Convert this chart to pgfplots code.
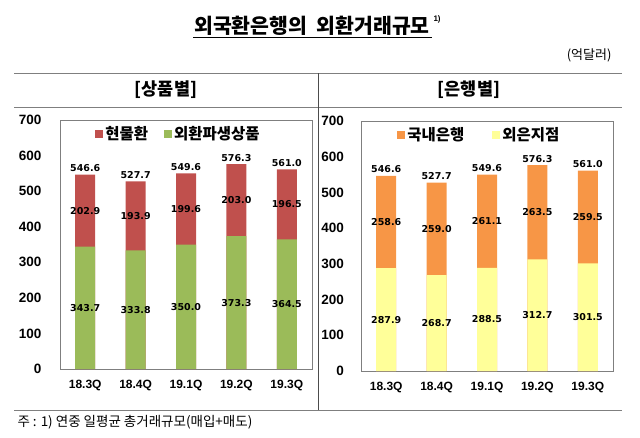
\documentclass[border=0pt]{standalone}
\usepackage{pgfplots}
\pgfplotsset{compat=1.18}
\usepackage{fontspec}
\setmainfont{Liberation Sans}
\newfontfamily\kr{Noto Sans CJK KR}
\newfontfamily\dv{DejaVu Sans}
\definecolor{cred}{HTML}{C0504D}
\definecolor{cgreen}{HTML}{9BBB59}
\definecolor{corange}{HTML}{F79646}
\definecolor{cyellow}{HTML}{FFFF99}
\definecolor{lgray}{HTML}{7F7F7F}
\pgfplotsset{
  common/.style={
    scale only axis, width=252pt,
    xmin=-0.5, xmax=4.5, ymin=0, ymax=700,
    xtick={0,1,2,3,4}, xticklabels={18.3Q,18.4Q,19.1Q,19.2Q,19.3Q},
    ytick={0,100,...,700},
    major tick length=0pt,
    axis line style={lgray, line width=0.6pt},
    /pgf/number format/assume math mode=true,
    y tick label style={font=\bfseries\fontsize{13.5}{15}\selectfont},
    x tick label style={font=\bfseries\fontsize{12}{14}\selectfont},
    xticklabel shift=8pt,
    legend style={draw=none, fill=none, legend columns=2,
      font=\kr\bfseries\fontsize{15.5}{17}\selectfont},
    legend cell align=left,
  },
  lab/.style={draw=none, mark=none, forget plot, nodes near coords,
    point meta=explicit symbolic,
    every node near coord/.append style={anchor=center, font=\dv\bfseries\fontsize{9.5}{11}\selectfont, text=black}},
  tot/.style={draw=none, mark=none, forget plot, nodes near coords,
    point meta=explicit symbolic,
    every node near coord/.append style={anchor=south, font=\dv\bfseries\fontsize{9.5}{11}\selectfont, text=black, inner sep=2.5pt}},
  sq/.style={legend image code/.code={\fill[#1, draw=none] (0pt,-4pt) rectangle (8pt,4pt);}},
}
\begin{document}
\begin{tikzpicture}
\useasboundingbox (0,0) rectangle (640pt,437pt);
% title
\node[anchor=center] at (312pt,411pt) {\kr\bfseries\fontsize{20.5}{23}\selectfont 외국환은행의\ \ 외환거래규모};
\node[anchor=west] at (430pt,418pt) {\fontsize{8}{9}\selectfont\bfseries 1)};
\draw[line width=0.7pt] (193pt,400pt) -- (432pt,400pt);
\node[anchor=east] at (615pt,382pt) {\kr\fontsize{13}{15}\selectfont (억달러)};
% frame lines
\draw[lgray, line width=0.7pt] (14pt,363.5pt) -- (622pt,363.5pt);
\draw[lgray, line width=0.7pt] (14pt,329.5pt) -- (622pt,329.5pt);
\draw[lgray, line width=0.7pt] (14pt,27pt) -- (622pt,27pt);
\draw[black!70, line width=0.7pt] (318pt,363.5pt) -- (318pt,27pt);
\node at (166pt,347pt) {\kr\bfseries\fontsize{17.5}{19}\selectfont [상품별]};
\node at (469pt,347pt) {\kr\bfseries\fontsize{17.5}{19}\selectfont [은행별]};
\node[anchor=west] at (14pt,15pt) {\kr\fontsize{13.5}{15}\selectfont 주 : 1) 연중 일평균 총거래규모(매입+매도)};
% left
\begin{axis}[common, at={(60pt,68pt)}, anchor=south west, height=249pt,
  yticklabel shift=15pt,
  legend style={at={(0.47,0.99)}, anchor=north, /tikz/every even column/.append style={column sep=14pt}}]
\addplot[ybar, bar width=20pt, bar shift=0pt, fill=cred, draw=none, sq] coordinates {(0,546.6) (1,527.7) (2,549.6) (3,576.3) (4,561.0)};
\addlegendentry{현물환}
\addplot[ybar, bar width=20pt, bar shift=0pt, fill=cgreen, draw=none, sq] coordinates {(0,343.7) (1,333.8) (2,350.0) (3,373.3) (4,364.5)};
\addlegendentry{외환파생상품}
\addplot[lab] coordinates {(0,171.85)[343.7] (1,166.9)[333.8] (2,175.0)[350.0] (3,186.65)[373.3] (4,182.25)[364.5]};
\addplot[lab] coordinates {(0,445.15)[202.9] (1,430.75)[193.9] (2,449.8)[199.6] (3,474.8)[203.0] (4,462.75)[196.5]};
\addplot[tot] coordinates {(0,546.6)[546.6] (1,527.7)[527.7] (2,549.6)[549.6] (3,576.3)[576.3] (4,561.0)[561.0]};
\end{axis}
% right
\begin{axis}[common, at={(361pt,66pt)}, anchor=south west, height=250pt,
  yticklabel shift=13.5pt,
  legend style={at={(0.47,0.99)}, anchor=north, /tikz/every even column/.append style={column sep=26pt}}]
\addplot[ybar, bar width=20pt, bar shift=0pt, fill=corange, draw=none, sq] coordinates {(0,546.6) (1,527.7) (2,549.6) (3,576.3) (4,561.0)};
\addlegendentry{국내은행}
\addplot[ybar, bar width=20pt, bar shift=0pt, fill=cyellow, draw=none, sq] coordinates {(0,287.9) (1,268.7) (2,288.5) (3,312.7) (4,301.5)};
\addlegendentry{외은지점}
\addplot[lab] coordinates {(0,143.95)[287.9] (1,134.35)[268.7] (2,144.25)[288.5] (3,156.35)[312.7] (4,150.75)[301.5]};
\addplot[lab] coordinates {(0,417.2)[258.6] (1,398.2)[259.0] (2,419.05)[261.1] (3,444.45)[263.5] (4,431.25)[259.5]};
\addplot[tot] coordinates {(0,546.6)[546.6] (1,527.7)[527.7] (2,549.6)[549.6] (3,576.3)[576.3] (4,561.0)[561.0]};
\end{axis}
\end{tikzpicture}
\end{document}
